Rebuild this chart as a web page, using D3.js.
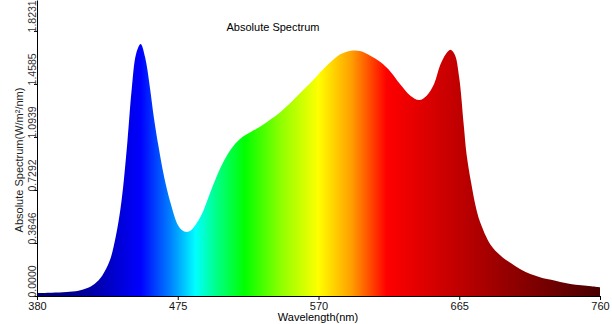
<!DOCTYPE html>
<html>
<head>
<meta charset="utf-8">
<script src="https://cdn.jsdelivr.net/npm/d3@7"></script>
<style>
  body { margin: 0; background: #fff; }
  text { font-family: "Liberation Sans", Arial, sans-serif; }
</style>
</head>
<body>
<script>
//Width and height
var w = 612;
var h = 324;

//Wavelengths (nm) and absolute spectrum values
var wavelengths = [380, 390, 400, 408, 414, 419, 424, 429, 433, 437, 441, 444, 447, 450, 453, 456, 459, 462, 466, 470,
                   475, 478, 481, 484, 488, 492, 497, 504, 511, 517, 524, 531, 538, 544, 551, 558, 565, 571, 578, 585,
                   592, 598, 605, 612, 619, 625, 632, 638, 643, 648, 652, 656, 659, 662, 665, 668, 670, 673, 676, 679,
                   686, 693, 700, 706, 713, 720, 727, 740, 754, 760];
var values = [0.020, 0.022, 0.027, 0.036, 0.055, 0.085, 0.140, 0.240, 0.400, 0.650, 1.060, 1.430, 1.670, 1.733, 1.640, 1.450, 1.220, 1.030, 0.810, 0.645,
              0.490, 0.452, 0.440, 0.452, 0.505, 0.580, 0.713, 0.885, 1.011, 1.080, 1.126, 1.167, 1.217, 1.263, 1.327, 1.400, 1.470, 1.538, 1.607, 1.664,
              1.687, 1.685, 1.653, 1.607, 1.538, 1.458, 1.378, 1.348, 1.378, 1.458, 1.585, 1.664, 1.694, 1.660, 1.500, 1.180, 0.970, 0.780, 0.620, 0.510,
              0.355, 0.277, 0.225, 0.186, 0.151, 0.128, 0.112, 0.083, 0.067, 0.060];

//Axis ticks
var xTicks = [380, 475, 570, 665, 760];
var yTicks = [0.0000, 0.3646, 0.7292, 1.0939, 1.4585, 1.8231];
var yMax = 2.036;  //top of the y axis line

//Colour of the fill along the wavelength axis
var colorStops = [
  [380, "#000070"], [415, "#0000a0"], [450, "#0000ff"], [470, "#0080ff"], [487, "#00ffff"],
  [500, "#00ff90"], [520, "#00ff00"], [545, "#90ff00"], [570, "#ffff00"], [592, "#ffa000"],
  [616, "#ff0000"], [652, "#d00000"], [697, "#950000"], [760, "#480000"]
];

var dataset = wavelengths.map(function(d, i) { return { nm: d, v: values[i] }; });

//Create scale functions
var xScale = d3.scaleLinear().domain([380, 760]).range([37, 600]);
var yScale = d3.scaleLinear().domain([0, yMax]).range([296, 0]);

//Create SVG element
var svg = d3.select("body")
      .append("svg")
      .attr("width", w)
      .attr("height", h);

//Gradient along wavelength
var grad = svg.append("defs").append("linearGradient")
      .attr("id", "spec")
      .attr("gradientUnits", "userSpaceOnUse")
      .attr("x1", xScale(380)).attr("x2", xScale(760))
      .attr("y1", 0).attr("y2", 0);

grad.selectAll("stop")
    .data(colorStops)
    .enter()
    .append("stop")
    .attr("offset", function(d) { return (d[0] - 380) / (760 - 380); })
    .attr("stop-color", function(d) { return d[1]; });

//Area generator
var area = d3.area()
      .x(function(d) { return xScale(d.nm); })
      .y0(yScale(0))
      .y1(function(d) { return yScale(d.v); })
      .curve(d3.curveCatmullRom.alpha(0.5));

svg.append("path")
  .datum(dataset)
  .attr("fill", "url(#spec)")
  .attr("d", area);

//Axes
var xAxis = d3.axisBottom(xScale)
      .tickValues(xTicks)
      .tickSize(4)
      .tickSizeOuter(0)
      .tickFormat(d3.format("d"));

var yAxis = d3.axisLeft(yScale)
      .tickValues(yTicks)
      .tickSize(3)
      .tickSizeOuter(0)
      .tickFormat(d3.format(".4f"));

var gx = svg.append("g")
      .attr("transform", "translate(0," + yScale(0) + ")")
      .call(xAxis);

gx.selectAll("text")
  .attr("y", 6)
  .attr("dy", "0.71em")
  .attr("fill", "#111")
  .style("font-size", "11px")
  .style("font-family", "Liberation Sans, Arial, sans-serif");

var gy = svg.append("g")
      .attr("transform", "translate(" + xScale(380) + ",0)")
      .call(yAxis);

gy.selectAll(".tick text")
  .attr("transform", "rotate(-90)")
  .attr("text-anchor", "start")
  .attr("x", -1)
  .attr("y", -1)
  .attr("dy", 0)
  .attr("fill", "#333")
  .style("font-size", "10.5px")
  .style("font-family", "Liberation Sans, Arial, sans-serif");

svg.selectAll(".domain, .tick line").attr("stroke", "#000");

//Titles
svg.append("text")
  .attr("x", 273)
  .attr("y", 31)
  .attr("text-anchor", "middle")
  .style("font-size", "11px")
  .attr("fill", "#000")
  .text("Absolute Spectrum");

svg.append("text")
  .attr("x", 318)
  .attr("y", 321)
  .attr("text-anchor", "middle")
  .style("font-size", "11px")
  .attr("fill", "#000")
  .text("Wavelength(nm)");

svg.append("text")
  .attr("transform", "translate(23,160) rotate(-90)")
  .attr("text-anchor", "middle")
  .style("font-size", "11px")
  .attr("fill", "#222")
  .text("Absolute Spectrum(W/m²/nm)");
</script>
</body>
</html>
